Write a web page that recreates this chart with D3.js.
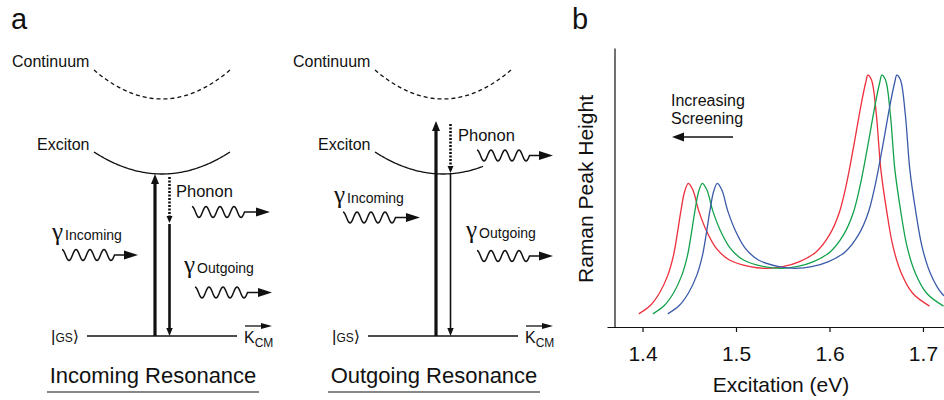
<!DOCTYPE html>
<html lang="en">
<head>
<meta charset="UTF-8">
<title>Resonance Raman scattering</title>
<script src="https://cdn.jsdelivr.net/npm/d3@7"></script>
<style>
  body { margin: 0; background: #fff; }
  svg { display: block; font-family: "Liberation Sans", Arial, sans-serif; }
  text { fill: #111; }
</style>
</head>
<body>
<svg id="fig" width="944" height="400"></svg>
<script>
// ---- panel b data ----
const xTicks = [1.4, 1.5, 1.6, 1.7]
const redEnergy = [1.396, 1.408, 1.418, 1.427, 1.433, 1.437, 1.441, 1.445, 1.449, 1.454, 1.460, 1.468, 1.479, 1.493, 1.515, 1.533, 1.550, 1.568, 1.586, 1.600, 1.610, 1.618, 1.626, 1.634, 1.639, 1.641, 1.645, 1.650, 1.655, 1.661, 1.668, 1.677, 1.689, 1.707]
const greenEnergy = [1.411, 1.423, 1.433, 1.442, 1.448, 1.452, 1.456, 1.460, 1.464, 1.469, 1.475, 1.483, 1.494, 1.508, 1.530, 1.548, 1.565, 1.583, 1.601, 1.615, 1.625, 1.633, 1.641, 1.649, 1.654, 1.656, 1.660, 1.665, 1.670, 1.676, 1.683, 1.692, 1.704, 1.722]
const blueEnergy = [1.427, 1.439, 1.449, 1.458, 1.464, 1.468, 1.472, 1.476, 1.480, 1.485, 1.491, 1.499, 1.510, 1.524, 1.546, 1.564, 1.581, 1.599, 1.617, 1.631, 1.641, 1.649, 1.657, 1.665, 1.670, 1.672, 1.676, 1.681, 1.686, 1.692, 1.699, 1.708, 1.720, 1.738]
// relative peak height, 0 = x axis, 1 = top of y axis
const peakHeight = [0.047, 0.076, 0.121, 0.185, 0.255, 0.330, 0.415, 0.485, 0.515, 0.490, 0.418, 0.348, 0.282, 0.240, 0.216, 0.210, 0.216, 0.234, 0.270, 0.330, 0.405, 0.510, 0.650, 0.800, 0.880, 0.903, 0.885, 0.766, 0.563, 0.420, 0.288, 0.192, 0.121, 0.075]
const seriesColors = ['#ec2f3b', '#13a24b', '#3b5aa9']

// ---- panel a labels ----
const panelTitles = ['Incoming Resonance', 'Outgoing Resonance']
const levelNames = ['Continuum', 'Exciton']

const svg = d3.select('#fig')

// small filled arrowhead, tip at (x,y), pointing along angle (deg)
function head(g, x, y, angle, len, half) {
   g.append('path')
      .attr('d', `M0,0L${-len},${-half}L${-len},${half}Z`)
      .attr('transform', `translate(${x},${y}) rotate(${angle})`)
      .attr('fill', '#111')
}

// photon / phonon wiggle with arrow
function wave(g, x0, mid, tip) {
   const amp = 5.5, period = 14
   const pts = d3.range(0, 3.75 * period + 0.25, 0.5).map(t => [x0 + t, mid - amp * Math.cos(2 * Math.PI * t / period)])
   const end = pts[pts.length - 1]
   pts.push([tip - 10, end[1]])
   g.append('path')
      .attr('d', d3.line()(pts))
      .attr('fill', 'none').attr('stroke', '#111').attr('stroke-width', 1.5)
   head(g, tip, end[1], 0, 14, 4.5)
}

function parabola(g, cx, halfW, vy, ey, xEnd, dash) {
   const pts = d3.range(cx - halfW, xEnd + 0.5, 1).map(x => [x, vy + (ey - vy) * ((x - cx) / halfW) ** 2])
   g.append('path')
      .attr('d', d3.line()(pts))
      .attr('fill', 'none').attr('stroke', '#111').attr('stroke-width', 1.3)
      .attr('stroke-dasharray', dash ? '4,3' : null)
}

function gammaLabel(g, x, y, word) {
   const t = g.append('text').attr('x', x).attr('y', y)
   t.append('tspan').text('γ').style('font-family', '"Liberation Serif", serif').style('font-size', '25px')
   t.append('tspan').attr('dx', 2).text(word).style('font-size', '14px')
}

function scheme(ox, outgoing) {
   const g = svg.append('g').attr('transform', `translate(${ox},0)`)

   g.append('text').attr('x', 12).attr('y', 67).style('font-size', '16px').text(levelNames[0])
   parabola(g, 162, 68, 99, 70, 230, true)
   g.append('text').attr('x', 37).attr('y', 150).style('font-size', '16px').text(levelNames[1])
   parabola(g, 162, 68, 174, 152, outgoing ? 202 : 230, false)

   // ground state
   const gs = g.append('text').attr('x', 51).attr('y', 342)
   gs.append('tspan').text('|').style('font-size', '17px')
   gs.append('tspan').text('GS').style('font-size', '12px')
   gs.append('tspan').text('⟩').style('font-size', '16px').style('font-family', '"DejaVu Sans", sans-serif')
   g.append('line').attr('x1', 87).attr('x2', 237).attr('y1', 336).attr('y2', 336)
      .attr('stroke', '#111').attr('stroke-width', 1.5)

   // K_CM
   g.append('line').attr('x1', 245).attr('x2', 262).attr('y1', 326).attr('y2', 326)
      .attr('stroke', '#111').attr('stroke-width', 1.3)
   head(g, 272, 326, 0, 11, 3)
   const k = g.append('text').attr('x', 244).attr('y', 343)
   k.append('tspan').text('K').style('font-size', '16px')
   k.append('tspan').attr('dy', 4).text('CM').style('font-size', '12px')

   // vertical transitions
   const top = outgoing ? 121 : 174
   g.append('line').attr('x1', 155).attr('x2', 155).attr('y1', 336).attr('y2', top + 8)
      .attr('stroke', '#111').attr('stroke-width', 3.2)
   head(g, 155, top, -90, 10, 4)

   const dotEnd = outgoing ? 173 : 223
   g.append('line').attr('x1', 169.5).attr('x2', 169.5).attr('y1', top + 3).attr('y2', dotEnd - 6)
      .attr('stroke', '#111').attr('stroke-width', 2.6).attr('stroke-dasharray', '2,1.5')
   head(g, 169.5, dotEnd, 90, 7, 3)
   g.append('line').attr('x1', 169.5).attr('x2', 169.5).attr('y1', dotEnd + 1).attr('y2', 330)
      .attr('stroke', '#111').attr('stroke-width', outgoing ? 1.6 : 2.6)
   head(g, 169.5, 336, 90, 8, 3.2)

   // labels and photons
   if (!outgoing) {
      g.append('text').attr('x', 176).attr('y', 197).style('font-size', '16.5px').text('Phonon')
      wave(g, 192, 212, 270)
      gammaLabel(g, 52, 240, 'Incoming')
      wave(g, 62, 255, 138)
      gammaLabel(g, 184, 273, 'Outgoing')
      wave(g, 195, 292.5, 272)
   } else {
      g.append('text').attr('x', 177).attr('y', 141).style('font-size', '16.5px').text('Phonon')
      wave(g, 196, 155.5, 272)
      gammaLabel(g, 53, 203, 'Incoming')
      wave(g, 62, 217.5, 139)
      gammaLabel(g, 185, 238, 'Outgoing')
      wave(g, 196, 256, 272)
   }

   g.append('text').attr('x', 153).attr('y', 383).attr('text-anchor', 'middle')
      .style('font-size', '22px').text(panelTitles[outgoing ? 1 : 0])
   g.append('line').attr('x1', 47).attr('x2', 259).attr('y1', 392).attr('y2', 392)
      .attr('stroke', '#111').attr('stroke-width', 1.2)
}

svg.append('text').attr('x', 11).attr('y', 29).style('font-size', '29px').text('a')
scheme(0, false)
scheme(281, true)

// ---- panel b ----
svg.append('text').attr('x', 572).attr('y', 29).style('font-size', '29px').text('b')

const x = d3.scaleLinear().domain([1.362, 1.73]).range([607, 951])
const y = d3.scaleLinear().domain([0, 1]).range([327, 48])

const series = [redEnergy, greenEnergy, blueEnergy].map((e, i) => ({
   color: seriesColors[i],
   points: e.map((v, j) => [v, peakHeight[j]])
}))

const line = d3.line()
   .x(d => x(d[0]))
   .y(d => y(d[1]))
   .curve(d3.curveCatmullRom.alpha(0.5))

svg.append('g').selectAll('path')
   .data(series)
   .join('path')
      .attr('d', d => line(d.points))
      .attr('fill', 'none')
      .attr('stroke', d => d.color)
      .attr('stroke-width', 1.3)

const xAxis = svg.append('g')
   .attr('transform', 'translate(0,327)')
   .call(d3.axisBottom(x).tickValues(xTicks).tickFormat(d3.format('.1f'))
      .tickSize(5).tickSizeOuter(0).tickPadding(14))
xAxis.selectAll('text').style('font-size', '21px').style('font-family', '"Liberation Sans", Arial, sans-serif').attr('fill', '#111')
xAxis.selectAll('path, line').attr('stroke', '#111').attr('stroke-width', 1.2)

const yAxis = svg.append('g')
   .attr('transform', 'translate(614.5,0)')
   .call(d3.axisLeft(y).tickValues([]).tickSizeOuter(0))
yAxis.select('path').attr('stroke', '#111').attr('stroke-width', 1.2)

svg.append('text').attr('transform', 'translate(593,189) rotate(-90)')
   .attr('text-anchor', 'middle').style('font-size', '21px').text('Raman Peak Height')
svg.append('text').attr('x', 781).attr('y', 392)
   .attr('text-anchor', 'middle').style('font-size', '21px').text('Excitation (eV)')

svg.append('text').attr('x', 671).attr('y', 106).style('font-size', '16px').text('Increasing')
svg.append('text').attr('x', 671).attr('y', 124).style('font-size', '16px').text('Screening')
svg.append('line').attr('x1', 733).attr('x2', 682).attr('y1', 137).attr('y2', 137)
   .attr('stroke', '#111').attr('stroke-width', 1.5)
head(svg, 672, 137, 180, 12, 4.5)
</script>
</body>
</html>
